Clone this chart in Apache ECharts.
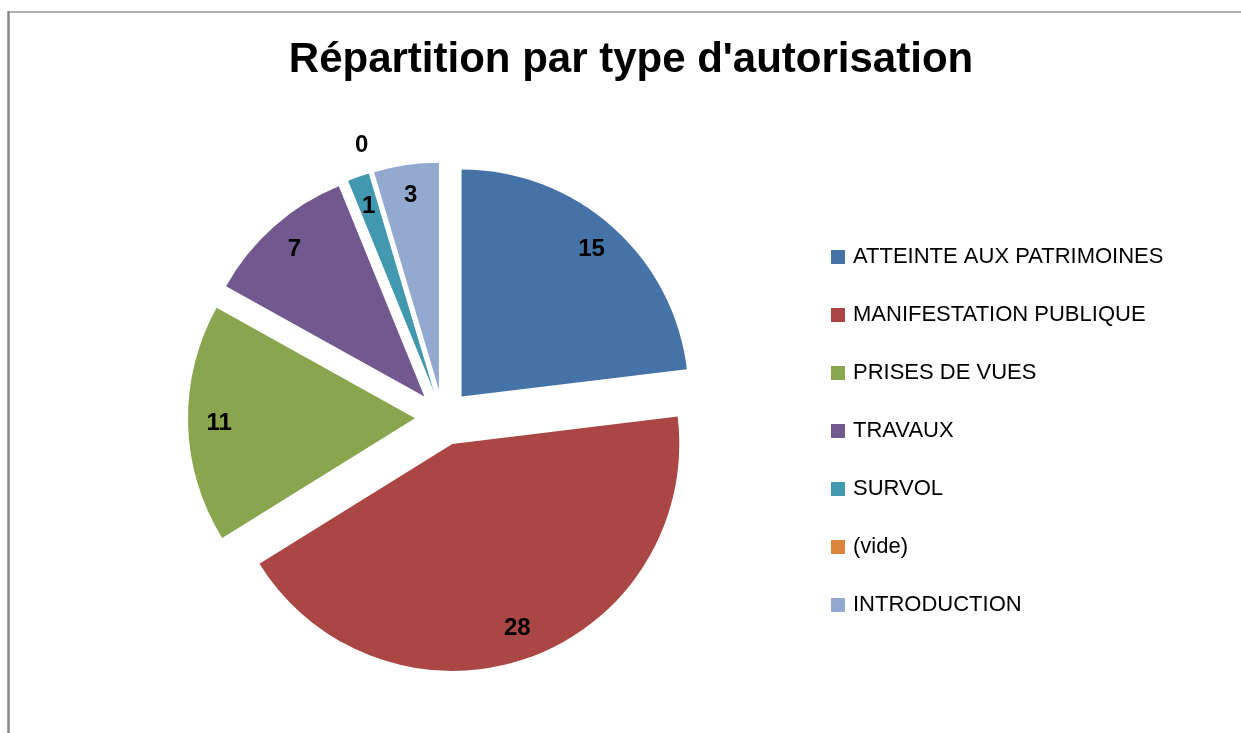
<!DOCTYPE html>
<html>
<head>
<meta charset="utf-8">
<script src="https://cdn.jsdelivr.net/npm/echarts@6/dist/echarts.min.js"></script>
<style>
html,body{margin:0;padding:0;background:#fff;}
#chart{width:1241px;height:733px;}
</style>
</head>
<body>
<div id="chart"></div>
<script>
const titleText = "Répartition par type d'autorisation";
const categories = ["ATTEINTE AUX PATRIMOINES", "MANIFESTATION PUBLIQUE", "PRISES DE VUES", "TRAVAUX", "SURVOL", "(vide)", "INTRODUCTION"];
const values = [15, 28, 11, 7, 1, 0, 3];
const colors = ["#4572A7", "#AA4643", "#89A54E", "#71588F", "#4198AF", "#DB843D", "#93A9CF"];

const CENTER = [443, 417.5];
const R = 227;
const OFFSET = 28;
const FONT = "'Liberation Sans', Arial, sans-serif";

const chart = echarts.init(document.getElementById('chart'), null, {renderer: 'canvas'});

const mainData = categories.map((c, i) => ({
  name: c, value: values[i], selected: true,
  itemStyle: {color: colors[i]}
}));
const labelData = categories.map((c, i) => ({
  name: c, value: values[i], selected: true,
  label: {show: values[i] !== 0}
}));
const zeroLabelData = categories.map((c, i) => ({
  name: c, value: values[i], selected: true,
  label: {show: values[i] === 0}
}));

const option = {
  backgroundColor: '#fff',
  animation: false,
  color: colors,
  title: {
    text: titleText,
    left: 626, top: 34, textAlign: 'center',
    textStyle: {fontFamily: FONT, fontWeight: 'bold', fontSize: 42, color: '#000'}
  },
  legend: {
    orient: 'vertical',
    left: 831, top: 246,
    padding: 0,
    itemWidth: 14, itemHeight: 14, itemGap: 36,
    itemTextGap: 8,
    icon: 'rect',
    data: categories,
    textStyle: {fontFamily: FONT, fontSize: 22, color: '#000', padding: [0, 0, 0, 3]}
  },
  graphic: [
    {type: 'line', shape: {x1: 8, y1: 12, x2: 1241, y2: 12}, style: {stroke: '#9a9a9a', lineWidth: 1.5}, silent: true},
    {type: 'line', shape: {x1: 8.5, y1: 11, x2: 8.5, y2: 733}, style: {stroke: '#8a8a8a', lineWidth: 2.5}, silent: true}
  ],
  series: [
    {
      name: 'main', type: 'pie',
      center: CENTER, radius: R,
      startAngle: 90, clockwise: true,
      selectedMode: 'multiple', selectedOffset: OFFSET,
      avoidLabelOverlap: false,
      label: {show: false}, labelLine: {show: false},
      emphasis: {disabled: true},
      silent: true,
      data: mainData
    },
    {
      name: 'labels', type: 'pie',
      center: CENTER, radius: [Math.round(R * 0.70), R],
      startAngle: 90, clockwise: true,
      selectedMode: 'multiple', selectedOffset: OFFSET,
      avoidLabelOverlap: false,
      itemStyle: {color: 'rgba(0,0,0,0)'},
      label: {position: 'inside', formatter: '{c}', fontFamily: FONT, fontWeight: 'bold', fontSize: 24, color: '#000'},
      labelLine: {show: false},
      emphasis: {disabled: true},
      silent: true,
      legendHoverLink: false,
      data: labelData
    },
    {
      name: 'zero', type: 'pie',
      center: CENTER, radius: [240, 266],
      startAngle: 90, clockwise: true,
      selectedMode: 'multiple', selectedOffset: OFFSET,
      avoidLabelOverlap: false,
      itemStyle: {color: 'rgba(0,0,0,0)'},
      label: {position: 'inside', formatter: '{c}', fontFamily: FONT, fontWeight: 'bold', fontSize: 24, color: '#000'},
      labelLine: {show: false},
      emphasis: {disabled: true},
      silent: true,
      data: zeroLabelData
    }
  ]
};
chart.setOption(option);
</script>
</body>
</html>
